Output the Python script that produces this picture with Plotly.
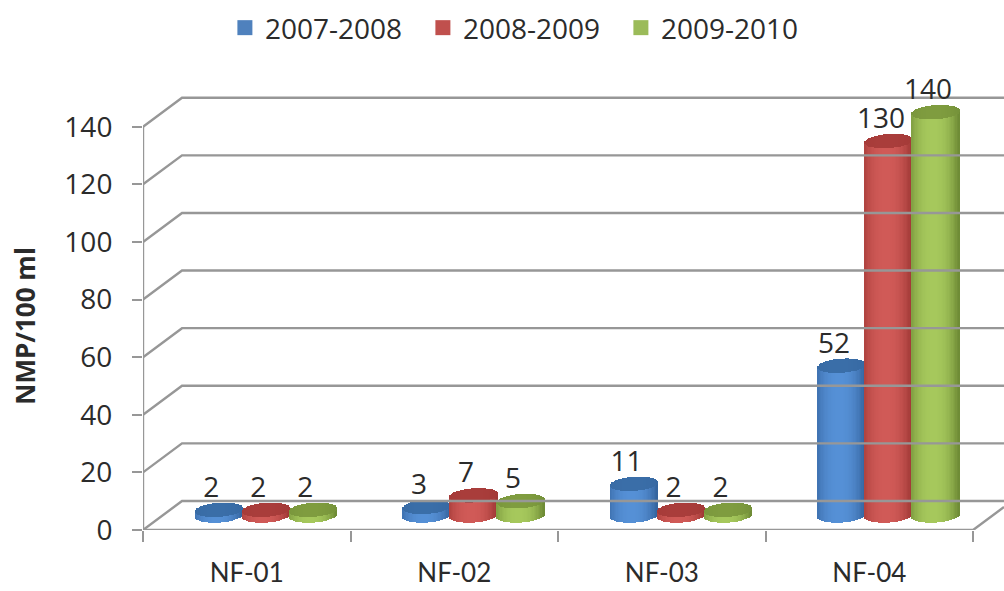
import numpy as np
import plotly.graph_objects as go

categories = ["NF-01", "NF-02", "NF-03", "NF-04"]
series_names = ["2007-2008", "2008-2009", "2009-2010"]
values_2007_2008 = [2, 3, 11, 52]
values_2008_2009 = [2, 7, 2, 130]
values_2009_2010 = [2, 5, 2, 140]
y_ticks = [0, 20, 40, 60, 80, 100, 120, 140]

# (legend, lit side, shaded edge, cap) colours for each series
palette = [
    ("#4f81bd", "#5590d6", "#35659f", "#3a6ea8"),
    ("#c0504d", "#d05a57", "#a03835", "#a93d3b"),
    ("#9bbb59", "#a6c85c", "#6f8c36", "#7f9c3f"),
]

GRID = "#979797"
TEXT = "#2b2b2b"
FONT = "Open Sans"

# Scene depth, in axis units, of the oblique floor and back wall
DEPTH_X, DEPTH_Y = 0.188, 10.07
X_MAX = 4.149
Y_MAX = 159.7

# Cylinder proportions, in axis units
STEP = 0.2265
RADIUS_X = 0.1155
RADIUS_Y = 2.45
TILT = 0.55
BAR_FLOOR = DEPTH_Y / 2
GROUP_SHIFT = DEPTH_X / 2
STRIPS = 36
LABEL_LIFT = 6.9
LABEL_SHIFT = -0.038


def mix(c1, c2, f):
    a = [int(c1[i:i + 2], 16) for i in (1, 3, 5)]
    b = [int(c2[i:i + 2], 16) for i in (1, 3, 5)]
    return "rgb(%d,%d,%d)" % tuple(round(p + (q - p) * f) for p, q in zip(a, b))


def cylinder_traces(centre, value, lit, edge, cap):
    t = (np.arange(STRIPS) + 0.5) / STRIPS * 2 - 1
    arc = np.sqrt(1 - t ** 2) * RADIUS_Y
    xs = centre + t * RADIUS_X
    width = 2 * RADIUS_X / STRIPS * 1.1
    shade = np.clip(np.abs(t + 0.1) / 1.05, 0, 1) ** 2.4
    body = go.Bar(
        x=xs, y=value + arc, base=BAR_FLOOR - arc + TILT * t, width=width,
        marker=dict(color=[mix(lit, edge, s) for s in shade], line=dict(width=0)),
        showlegend=False, hoverinfo="skip",
    )
    top = go.Bar(
        x=xs, y=2 * arc, base=BAR_FLOOR + value - arc + TILT * t, width=width,
        marker=dict(color=[mix(cap, edge, s * 0.6) for s in shade], line=dict(width=0)),
        showlegend=False, hoverinfo="skip",
    )
    return [body, top]


fig = go.Figure()

# Back wall gridlines, floor and axis lines
for v in y_ticks:
    fig.add_trace(go.Scatter(
        x=[0, DEPTH_X, X_MAX], y=[v, v + DEPTH_Y, v + DEPTH_Y], mode="lines",
        line=dict(color=GRID, width=2.4), showlegend=False, hoverinfo="skip",
    ))
fig.add_trace(go.Scatter(
    x=[0, 0], y=[0, 140], mode="lines", line=dict(color=GRID, width=2.4),
    showlegend=False, hoverinfo="skip",
))
fig.add_trace(go.Scatter(
    x=[0, 4, X_MAX], y=[0, 0, DEPTH_Y * (X_MAX - 4) / DEPTH_X], mode="lines",
    line=dict(color=GRID, width=2.4), showlegend=False, hoverinfo="skip",
))

all_values = [values_2007_2008, values_2008_2009, values_2009_2010]

# Cylinders
for s, vals in enumerate(all_values):
    legend_col, lit, edge, cap = palette[s]
    for c, v in enumerate(vals):
        centre = c + 0.5 + GROUP_SHIFT + (s - 1) * STEP
        for tr in cylinder_traces(centre, v, lit, edge, cap):
            fig.add_trace(tr)

# Value labels
for s, vals in enumerate(all_values):
    fig.add_trace(go.Scatter(
        x=[c + 0.5 + GROUP_SHIFT + (s - 1) * STEP + LABEL_SHIFT for c in range(len(vals))],
        y=[BAR_FLOOR + v + LABEL_LIFT for v in vals],
        mode="text", text=[str(v) for v in vals], textposition="middle center",
        textfont=dict(family=FONT, size=28, color=TEXT),
        showlegend=False, hoverinfo="skip", cliponaxis=False,
    ))

# Legend entries
for s, name in enumerate(series_names):
    fig.add_trace(go.Scatter(
        x=[None], y=[None], mode="markers", name=name,
        marker=dict(symbol="square", size=15, color=palette[s][0]),
    ))

fig.update_layout(
    width=1004, height=591,
    margin=dict(l=143, r=0, t=70, b=61),
    paper_bgcolor="white", plot_bgcolor="white",
    barmode="overlay", bargap=0,
    font=dict(family=FONT, color=TEXT),
    legend=dict(
        orientation="h", x=0.224, xref="container", xanchor="left",
        y=0.995, yref="container", yanchor="top",
        font=dict(family=FONT, size=28, color=TEXT),
        entrywidth=153, entrywidthmode="pixels", itemwidth=30,
        traceorder="normal",
    ),
    xaxis=dict(
        automargin=False,
        range=[0, X_MAX], showgrid=False, zeroline=False, showline=False,
        tickmode="array", tickvals=[i + 0.5 for i in range(len(categories))],
        ticktext=categories, ticks="outside", ticklen=0,
        ticklabelstandoff=20, tickfont=dict(family="Lato", size=26, color=TEXT),
        minor=dict(tick0=0, dtick=1, ticks="outside", ticklen=11, tickwidth=2.4, tickcolor=GRID),
    ),
    yaxis=dict(
        automargin=False,
        range=[0, Y_MAX], showgrid=False, zeroline=False, showline=False,
        tickmode="array", tickvals=y_ticks, ticks="outside", ticklen=10,
        tickwidth=2.4, tickcolor=GRID, ticklabelstandoff=14,
        tickfont=dict(family=FONT, size=28, color=TEXT),
    ),
    annotations=[dict(
        text="<b>NMP/100 ml</b>", textangle=-90, showarrow=False,
        xref="paper", yref="paper", x=-0.1606, y=0.4435,
        font=dict(family=FONT, size=26, color=TEXT),
    )],
)

fig.write_html("out.html")
